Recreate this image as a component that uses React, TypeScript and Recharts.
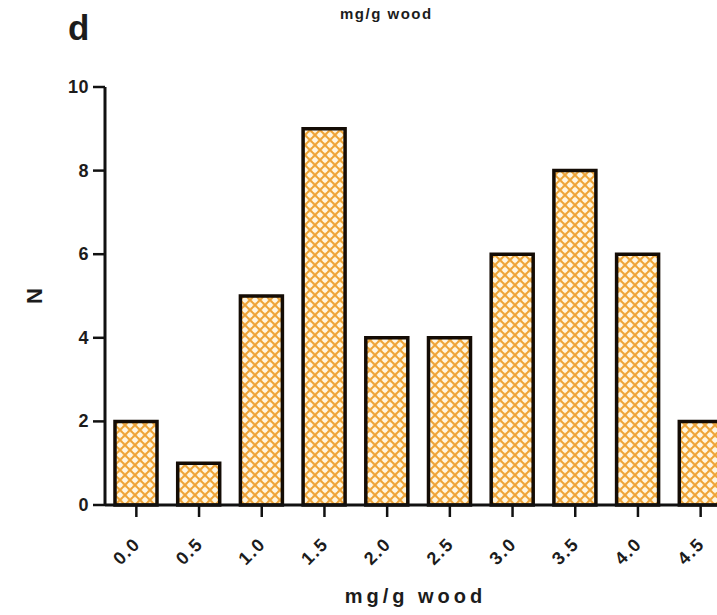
import React from 'react';
import { BarChart, Bar, XAxis, YAxis } from 'recharts';

// Histogram bins (mg/g wood) and counts per bin
const bins = ['0.0', '0.5', '1.0', '1.5', '2.0', '2.5', '3.0', '3.5', '4.0', '4.5'];
const counts = [2, 1, 5, 9, 4, 4, 6, 8, 6, 2];
const yTicks = [0, 2, 4, 6, 8, 10];

const panelLetter = 'd';
const topTitle = 'mg/g wood';
const xTitle = 'mg/g wood';
const yTitle = 'N';

const data = bins.map((bin, i) => ({ bin, n: counts[i] }));

const FONT = '"Liberation Sans", Arial, Helvetica, sans-serif';
const INK = '#1c1c1c';

const XTick = (props: any) => {
  const { x, y, payload } = props;
  const ax = x + 5;
  const ay = y + 26;
  return (
    <text
      x={ax}
      y={ay}
      textAnchor="end"
      transform={`rotate(-45 ${ax} ${ay})`}
      fontFamily={FONT}
      fontWeight="bold"
      fontSize={18}
      letterSpacing={1.5}
      fill={INK}
    >
      {payload.value}
    </text>
  );
};

const YTick = (props: any) => {
  const { x, y, payload } = props;
  return (
    <text
      x={x}
      y={y}
      textAnchor="end"
      dominantBaseline="central"
      fontFamily={FONT}
      fontWeight="bold"
      fontSize={18}
      letterSpacing={0.5}
      fill={INK}
    >
      {payload.value}
    </text>
  );
};

const XTitle = (props: any) => {
  const { viewBox } = props;
  const cx = viewBox.x + viewBox.width / 2 - 3;
  return (
    <text
      x={cx}
      y={viewBox.y + 98}
      textAnchor="middle"
      fontFamily={FONT}
      fontWeight="bold"
      fontSize={20}
      letterSpacing={4}
      fill={INK}
    >
      {xTitle}
    </text>
  );
};

const YTitle = (props: any) => {
  const { viewBox } = props;
  const cy = viewBox.y + viewBox.height / 2;
  return (
    <text
      x={34}
      y={cy}
      textAnchor="middle"
      dominantBaseline="central"
      transform={`rotate(-90 34 ${cy})`}
      fontFamily={FONT}
      fontWeight="bold"
      fontSize={22}
      fill={INK}
    >
      {yTitle}
    </text>
  );
};

export default function App() {
  return (
    <div
      style={{
        position: 'fixed',
        left: 0,
        top: 0,
        width: 717,
        height: 615,
        overflow: 'hidden',
        background: '#ffffff',
      }}
    >
      <div
        style={{
          position: 'absolute',
          left: 68,
          top: 8,
          fontFamily: FONT,
          fontWeight: 'bold',
          fontSize: 35,
          lineHeight: '40px',
          color: INK,
        }}
      >
        {panelLetter}
      </div>
      <div
        style={{
          position: 'absolute',
          left: 340,
          top: 4,
          fontFamily: FONT,
          fontWeight: 'bold',
          fontSize: 15,
          lineHeight: '20px',
          letterSpacing: 1.5,
          color: INK,
        }}
      >
        {topTitle}
      </div>
      <BarChart
        width={740}
        height={615}
        data={data}
        margin={{ top: 87, right: 8, bottom: 0, left: 0 }}
        barSize={42}
      >
        <defs>
          <pattern id="crosshatch" width="10" height="10" patternUnits="userSpaceOnUse">
            <rect width="10" height="10" fill="#fbe0a0" />
            <circle cx="5" cy="0" r="2.6" fill="#fff6e2" />
            <circle cx="0" cy="5" r="2.6" fill="#fff6e2" />
            <circle cx="10" cy="5" r="2.6" fill="#fff6e2" />
            <circle cx="5" cy="10" r="2.6" fill="#fff6e2" />
            <path d="M0,0 L10,10 M10,0 L0,10" stroke="#efa236" strokeWidth="1.9" />
          </pattern>
        </defs>
        <XAxis
          dataKey="bin"
          height={110}
          interval={0}
          axisLine={{ stroke: '#111', strokeWidth: 3 }}
          tickLine={{ stroke: '#111', strokeWidth: 2.5 }}
          tickSize={12}
          tick={<XTick />}
          label={<XTitle />}
        />
        <YAxis
          width={105}
          domain={[0, 10]}
          ticks={yTicks}
          interval={0}
          axisLine={{ stroke: '#111', strokeWidth: 3 }}
          tickLine={{ stroke: '#111', strokeWidth: 2.5 }}
          tickSize={12}
          tickMargin={4}
          tick={<YTick />}
          label={<YTitle />}
        />
        <Bar
          dataKey="n"
          fill="url(#crosshatch)"
          stroke="#140c05"
          strokeWidth={3.5}
          isAnimationActive={false}
        />
      </BarChart>
    </div>
  );
}
